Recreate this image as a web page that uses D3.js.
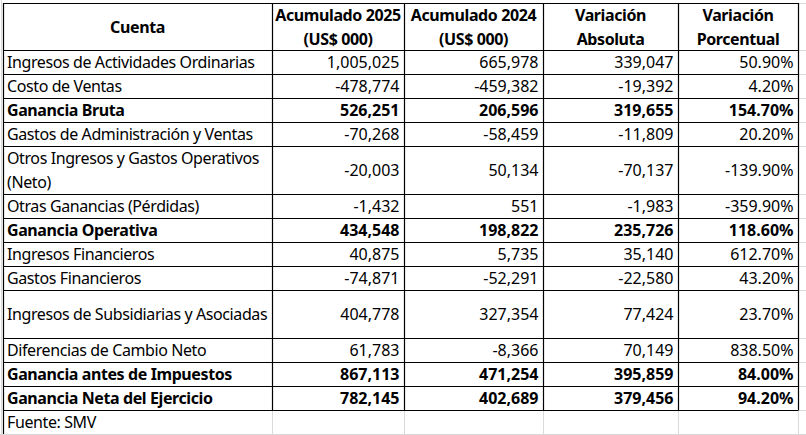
<!DOCTYPE html>
<html>
<head>
<meta charset="utf-8">
<script src="https://cdn.jsdelivr.net/npm/d3@7"></script>
<style>
  body { margin: 0; background: #fff; }
  svg { display: block; }
  text { font-family: "Noto Sans", sans-serif; font-size: 16px; fill: #000; }
  .label, .head { letter-spacing: -0.4px; }
</style>
</head>
<body>
<svg id="grid" width="806" height="435"></svg>
<script>
// column headers (two lines each)
const headers = [
  ["Cuenta"],
  ["Acumulado 2025", "(US$ 000)"],
  ["Acumulado 2024", "(US$ 000)"],
  ["Variación", "Absoluta"],
  ["Variación", "Porcentual"],
];

const accounts = [
  "Ingresos de Actividades Ordinarias",
  "Costo de Ventas",
  "Ganancia Bruta",
  "Gastos de Administración y Ventas",
  "Otros Ingresos y Gastos Operativos (Neto)",
  "Otras Ganancias (Pérdidas)",
  "Ganancia Operativa",
  "Ingresos Financieros",
  "Gastos Financieros",
  "Ingresos de Subsidiarias y Asociadas",
  "Diferencias de Cambio Neto",
  "Ganancia antes de Impuestos",
  "Ganancia Neta del Ejercicio",
];

const acum2025 = [1005025, -478774, 526251, -70268, -20003, -1432, 434548, 40875, -74871, 404778, 61783, 867113, 782145];
const acum2024 = [665978, -459382, 206596, -58459, 50134, 551, 198822, 5735, -52291, 327354, -8366, 471254, 402689];
const varAbs = [339047, -19392, 319655, -11809, -70137, -1983, 235726, 35140, -22580, 77424, 70149, 395859, 379456];
const varPct = [50.9, 4.2, 154.7, 20.2, -139.9, -359.9, 118.6, 612.7, 43.2, 23.7, 838.5, 84.0, 94.2];

const totals = ["Ganancia Bruta", "Ganancia Operativa", "Ganancia antes de Impuestos", "Ganancia Neta del Ejercicio"];
const source = "Fuente: SMV";

// layout
const colEdges = [3, 272, 404, 543, 678, 798];
const headTop = 3, headBottom = 50, rowH = 24;
// rows that Excel shows at double height
const tallRows = ["Otros Ingresos y Gastos Operativos (Neto)", "Ingresos de Subsidiarias y Asociadas"];
const wrapped = { "Otros Ingresos y Gastos Operativos (Neto)": ["Otros Ingresos y Gastos Operativos", "(Neto)"] };

const loc = d3.formatLocale({ decimal: ".", thousands: ",", grouping: [3], currency: ["$", ""], minus: "-" });
const fmtNum = loc.format(",");
const fmtPct = (v) => loc.format(".2f")(v) + "%";

// row y positions
const rows = accounts.map((name, i) => ({
  name,
  values: [fmtNum(acum2025[i]), fmtNum(acum2024[i]), fmtNum(varAbs[i]), fmtPct(varPct[i])],
  bold: totals.includes(name),
  h: tallRows.includes(name) ? rowH * 2 : rowH,
}));
let yy = headBottom;
rows.forEach((r) => { r.y = yy; yy += r.h; });
const tableBottom = yy;
const sourceBottom = tableBottom + rowH;

const svg = d3.select("#grid");

// excel gridlines (light grey) outside the bordered table
const gridColor = "#d9d9d9";
const gl = svg.append("g").attr("stroke", gridColor).attr("stroke-width", 1);
gl.append("line").attr("x1", 1.5).attr("x2", 1.5).attr("y1", 0).attr("y2", 435);
[headTop, headBottom, ...rows.map((r) => r.y), tableBottom, sourceBottom].forEach((y) => {
  gl.append("line").attr("x1", colEdges[5]).attr("x2", 806).attr("y1", y + 0.5).attr("y2", y + 0.5);
});
colEdges.forEach((x) => {
  gl.append("line").attr("x1", x + 0.5).attr("x2", x + 0.5).attr("y1", tableBottom).attr("y2", 435);
});
gl.append("line").attr("x1", 0).attr("x2", 806).attr("y1", sourceBottom + 0.5).attr("y2", sourceBottom + 0.5);

// black cell borders
const bl = svg.append("g").attr("stroke", "#000").attr("stroke-width", 1.2);
[headTop, headBottom, ...rows.map((r) => r.y), tableBottom].forEach((y) => {
  bl.append("line").attr("x1", colEdges[0]).attr("x2", colEdges[5]).attr("y1", y + 0.5).attr("y2", y + 0.5);
});
colEdges.forEach((x) => {
  bl.append("line").attr("x1", x + 0.5).attr("x2", x + 0.5).attr("y1", headTop).attr("y2", tableBottom + 0.5);
});
// source cell: only left border continues
bl.append("line").attr("x1", colEdges[0] + 0.5).attr("x2", colEdges[0] + 0.5).attr("y1", tableBottom).attr("y2", sourceBottom);

// header
const hd = svg.append("g").attr("font-weight", "bold");
headers.forEach((lines, c) => {
  const cx = (colEdges[c] + colEdges[c + 1]) / 2;
  const baselines = lines.length === 1 ? [33] : [21, 44.5];
  lines.forEach((t, k) => {
    hd.append("text").attr("class", "head").attr("x", cx).attr("y", baselines[k]).attr("text-anchor", "middle").text(t);
  });
});

// body
const body = svg.append("g");
const rg = body.selectAll("g.row").data(rows).join("g").attr("class", "row")
  .attr("font-weight", (d) => (d.bold ? "bold" : "normal"));

rg.each(function (d) {
  const g = d3.select(this);
  const mid = d.y + d.h / 2 + 6;
  const lines = wrapped[d.name];
  if (lines) {
    lines.forEach((t, k) => {
      g.append("text").attr("class", "label").attr("x", colEdges[0] + 4).attr("y", d.y + 18 + k * 24).text(t);
    });
  } else {
    g.append("text").attr("class", "label").attr("x", colEdges[0] + 4).attr("y", mid).text(d.name);
  }
  d.values.forEach((v, c) => {
    g.append("text").attr("x", colEdges[c + 2] - 4.5).attr("y", mid).attr("text-anchor", "end").text(v);
  });
});

svg.append("text").attr("class", "label").attr("x", colEdges[0] + 4).attr("y", tableBottom + 18).text(source);
</script>
</body>
</html>
